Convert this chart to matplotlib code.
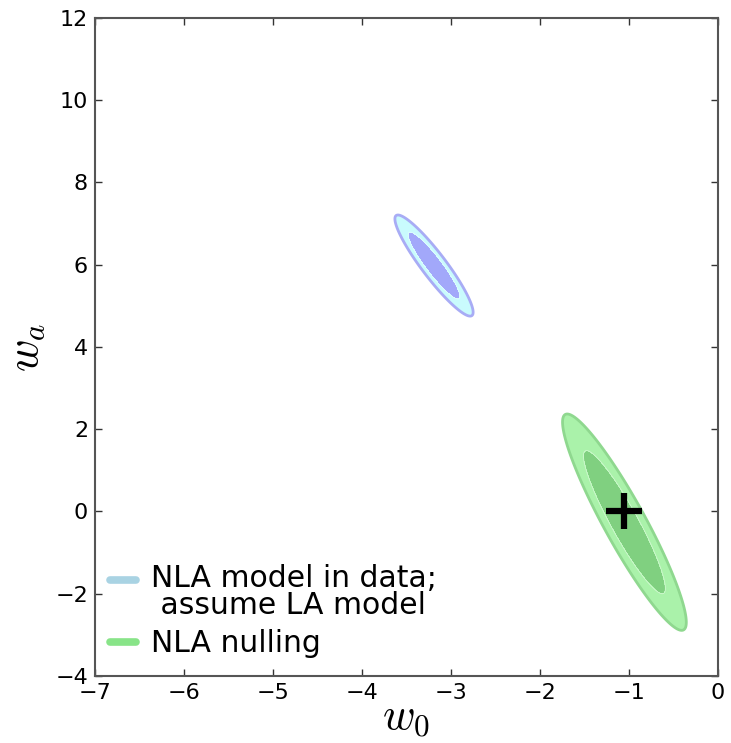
import numpy as np
import matplotlib
matplotlib.use("Agg")
import matplotlib.pyplot as plt
from matplotlib.lines import Line2D

plt.rcParams['mathtext.fontset'] = 'cm'
plt.rcParams['font.family'] = ['DejaVu Sans']

# Data: Fisher-style Gaussian contours (center, sigma_w0, sigma_wa, correlation)
labels = ["NLA model in data;\n assume LA model", "NLA nulling"]
centers = [(-3.19, 5.98), (-1.05, -0.26)]
sig_w0 = [0.177, 0.280]
sig_wa = [0.495, 1.059]
rho = [-0.923, -0.925]
fiducial = (-1.05, 0.0)

inner_colors = ['#a2a8fa', '#80d080']
outer_colors = ['#c9fbfd', '#aaf2aa']
edge_colors = ['#a8acf5', '#8fd88f']
legend_colors = ['#a9d3e3', '#88e488']

xticks = [-7, -6, -5, -4, -3, -2, -1, 0]
yticks = [-4, -2, 0, 2, 4, 6, 8, 10, 12]

fig = plt.figure(figsize=(7.31, 7.43), dpi=100)
ax = fig.add_axes([0.130, 0.0902, 0.852, 0.8856])

x = np.linspace(-7, 0, 700)
y = np.linspace(-4, 12, 1600)
X, Y = np.meshgrid(x, y)
lev1, lev2 = 2.7, 6.17
for i in range(2):
    cx, cy = centers[i]
    sx, sy, r = sig_w0[i], sig_wa[i], rho[i]
    dx = (X - cx) / sx
    dy = (Y - cy) / sy
    chi2 = (dx**2 - 2 * r * dx * dy + dy**2) / (1 - r**2)
    ax.contourf(X, Y, chi2, levels=[0, lev1, lev2], colors=[inner_colors[i], outer_colors[i]])
    ax.contour(X, Y, chi2, levels=[lev2], colors=[edge_colors[i]], linewidths=2.0)
    ax.contour(X, Y, chi2, levels=[lev1], colors=['white'], linewidths=0.6, alpha=0.45)

ax.plot([fiducial[0]], [fiducial[1]], marker='+', color='black', markersize=26, mew=4.5, linestyle='none')

ax.set_xlim(-7, 0)
ax.set_ylim(-4, 12)
ax.set_xticks(xticks)
ax.set_yticks(yticks)
ax.set_xticklabels(['\u2212%d' % abs(t) if t < 0 else '%d' % t for t in xticks])
ax.set_yticklabels(['\u2212%d' % abs(t) if t < 0 else '%d' % t for t in yticks])
ax.tick_params(direction='in', top=True, right=True, labelsize=16, length=5, width=1,
               colors='#333333', labelcolor='black', pad=5)
for s in ax.spines.values():
    s.set_color('#555555')
    s.set_linewidth(1.5)

ax.set_xlabel('$w_0$', fontsize=32, labelpad=-5)
ax.set_ylabel('$w_a$', fontsize=32, labelpad=6)

handles = [Line2D([0], [0], color=legend_colors[i], lw=5.5, solid_capstyle='round') for i in range(2)]
leg = ax.legend(handles, labels, loc='lower left', frameon=False, fontsize=21.5, handlelength=0.85,
                handletextpad=0.5, borderaxespad=0.2, labelspacing=0.3, bbox_to_anchor=(-0.004, 0.0))
for t in leg.get_texts():
    t.set_linespacing(0.9)
# align the first handle with the first text line, as in the original
l0 = leg.get_lines()[0]
l0.set_ydata(np.asarray(l0.get_ydata(), dtype=float) + 9.5)

fig.savefig('out.png', dpi=100)
